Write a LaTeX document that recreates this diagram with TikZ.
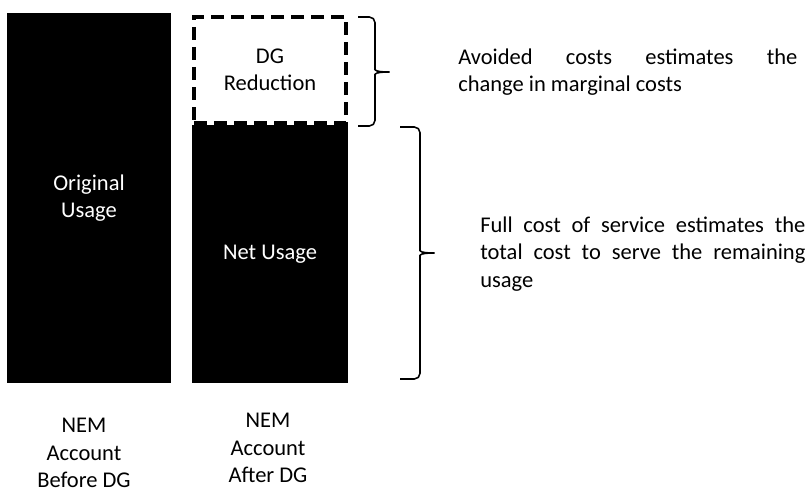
\documentclass[tikz,border=0pt]{standalone}
\usepackage{fontspec}
\setmainfont{Carlito}
\usetikzlibrary{calc}

\begin{document}
\begin{tikzpicture}[x=0.025cm,y=-0.025cm]
    \tikzstyle{bar}=[rectangle,fill=black,inner sep=0pt,outer sep=0pt,text=white,align=center,font=\fontsize{16}{19.5}\selectfont]
    \tikzstyle{cut}=[rectangle,draw=black,line width=0.1cm,dash pattern=on 0.325cm off 0.175cm,inner sep=0pt,align=center,font=\fontsize{16}{19.5}\selectfont]
    \tikzstyle{note}=[anchor=west,inner sep=0pt,align=left,font=\fontsize{16}{19.5}\selectfont]
    \tikzstyle{caption}=[inner sep=0pt,align=center,font=\fontsize{16}{19.5}\selectfont]
    \tikzstyle{curly}=[line width=1.1pt,rounded corners=4pt]
    \useasboundingbox (0,0) rectangle (809,492);

    \node (orig)[bar,minimum width=4.1cm,minimum height=9.25cm] at (89,198) {Original\\Usage};
    \node (red)[cut,minimum width=3.8cm,minimum height=2.65cm] at (270,70) {DG\\Reduction};
    \node (net)[bar,minimum width=3.9cm,minimum height=6.45cm] at (270,254) {Net Usage};

    \draw[curly] (358,17) -- (375,17) -- (375,64) to[out=-90,in=180] (393,72)
        to[out=180,in=90] (375,80) -- (375,126) -- (358,126);
    \draw[curly] (400,127) -- (420,127) -- (420,245) to[out=-90,in=180] (438,253)
        to[out=180,in=90] (420,261) -- (420,379) -- (400,379);

    \node (avoid)[note] at (458,72) {\makebox[8.475cm][s]{Avoided costs estimates the}\\change in marginal costs};
    \node (full)[note] at (480,254) {\makebox[8.125cm][s]{Full cost of service estimates the}\\\makebox[8.125cm][s]{total cost to serve the remaining}\\usage};

    \node (before)[caption] at (84,453) {NEM\\Account\\Before DG};
    \node (after)[caption] at (268,448) {NEM\\Account\\After DG};
\end{tikzpicture}
\end{document}
